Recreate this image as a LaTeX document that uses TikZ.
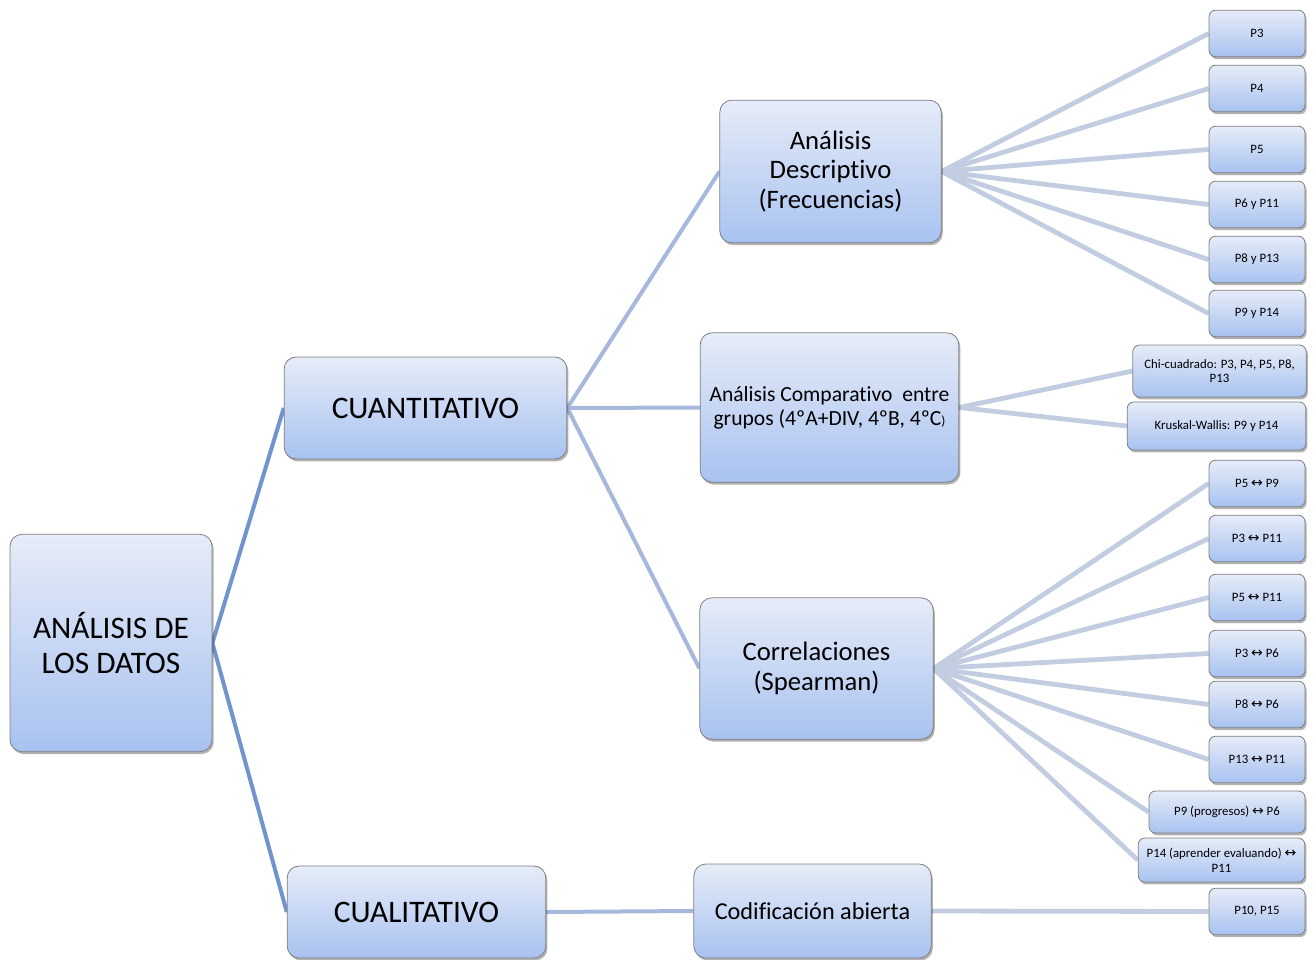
\documentclass[tikz,border=0pt]{standalone}
\usepackage{fontspec}
\setmainfont{Carlito}[Ligatures=NoCommon]
\newfontfamily\symbfont{DejaVu Sans}
\usepackage{tikz}
\usetikzlibrary{shadows,backgrounds}

\definecolor{boxtop}{HTML}{E6ECF8}
\definecolor{boxbottom}{HTML}{A8C2F0}
\definecolor{boxline}{HTML}{7F7F7F}
\definecolor{trunkcol}{HTML}{7094CB}
\definecolor{branchcol}{HTML}{A6B9DC}
\definecolor{twigcol}{HTML}{C2CDE2}
\newcommand{\lra}{{\symbfont\fontsize{10.5}{10}\selectfont ↔}}

\begin{document}
\begin{tikzpicture}[
    x=0.75pt, y=-0.75pt,
    box/.style={draw=boxline, line width=0.6pt, rounded corners=9pt, align=center, inner sep=2pt,
      top color=boxtop, bottom color=boxbottom,
      drop shadow={shadow xshift=1.2pt, shadow yshift=-1.8pt, opacity=0.3, fill=black}},
    big/.style={box, font=\fontsize{23.5}{26}\selectfont},
    mid/.style={box, font=\fontsize{20}{22}\selectfont},
    leaf/.style={box, rounded corners=5pt, minimum width=72pt, minimum height=35pt, font=\fontsize{9.6}{11}\selectfont},
    trunk/.style={draw=trunkcol, line width=3pt},
    branch/.style={draw=branchcol, line width=3pt},
    twig/.style={draw=twigcol, line width=3.6pt}
  ]
    \useasboundingbox (0,0) rectangle (1314,960);

    % main levels
    \node[big, minimum width=151.5pt, minimum height=163pt] (datos) at (111,643) {ANÁLISIS DE\\LOS DATOS};
    \node[big, minimum width=212pt, minimum height=76.5pt] (cuanti) at (425.5,408) {CUANTITATIVO};
    \node[big, minimum width=194pt, minimum height=69pt] (cuali) at (416.5,912) {CUALITATIVO};

    \node[mid, minimum width=166pt, minimum height=107pt] (descr) at (830.5,171.5) {Análisis\\Descriptivo\\(Frecuencias)};
    \node[mid, font=\fontsize{16.2}{18}\selectfont, minimum width=194pt, minimum height=112pt] (compar) at (829.5,407.5)
      {Análisis Comparativo\ \ entre\\grupos (4ºA+DIV, 4ºB, 4ºC{\fontsize{10}{10}\selectfont)}};
    \node[mid, minimum width=175pt, minimum height=106pt] (correl) at (816.5,668.5) {Correlaciones\\(Spearman)};
    \node[mid, font=\fontsize{18.2}{20}\selectfont, minimum width=178pt, minimum height=70.5pt] (codif) at (812.5,911) {Codificación abierta};

    % leaves
    \foreach \y/\name/\txt in {33.5/p3/P3, 88.5/p4/P4, 149.5/p5/P5, 204.5/p6/P6 y P11, 259.5/p8/P8 y P13, 313.5/p9/P9 y P14}
      \node[leaf] (\name) at (1257,\y) {\txt};

    \node[leaf, minimum width=130pt, minimum height=39pt] (chi) at (1219.5,371) {Chi-cuadrado: P3, P4, P5, P8,\\P13};
    \node[leaf, minimum width=134pt, minimum height=36pt] (kw) at (1216.5,426) {Kruskal-Wallis: P9 y P14};

    \foreach \y/\name/\txt in {483.5/c1/P5 \lra{} P9, 538.5/c2/P3 \lra{} P11, 597.5/c3/P5 \lra{} P11,
        653.5/c4/P3 \lra{} P6, 704.5/c5/P8 \lra{} P6, 759.5/c6/P13 \lra{} P11}
      \node[leaf] (\name) at (1257,\y) {\txt};
    \node[leaf, minimum width=117pt, minimum height=31.5pt] (c7) at (1227,812) {P9 (progresos) \lra{} P6};
    \node[leaf, minimum width=125pt, minimum height=33pt] (c8) at (1221.5,860) {P14 (aprender evaluando) \lra\\P11};

    \node[leaf] (p10) at (1257,911.5) {P10, P15};

    % connectors
    \begin{scope}[on background layer]
      \draw[trunk] (datos.east) -- (cuanti.west);
      \draw[trunk] (datos.east) -- (cuali.west);
      \foreach \n in {descr, compar, correl}
        \draw[branch] (cuanti.east) -- (\n.west);
      \draw[branch] (cuali.east) -- (codif.west);
      \foreach \n in {p3, p4, p5, p6, p8, p9}
        \draw[twig] (descr.east) -- (\n.west);
      \foreach \n in {chi, kw}
        \draw[twig] (compar.east) -- (\n.west);
      \foreach \n in {c1, c2, c3, c4, c5, c6, c7, c8}
        \draw[twig] (correl.east) -- (\n.west);
      \draw[twig] (codif.east) -- (p10.west);
    \end{scope}
  \end{tikzpicture}
\end{document}
